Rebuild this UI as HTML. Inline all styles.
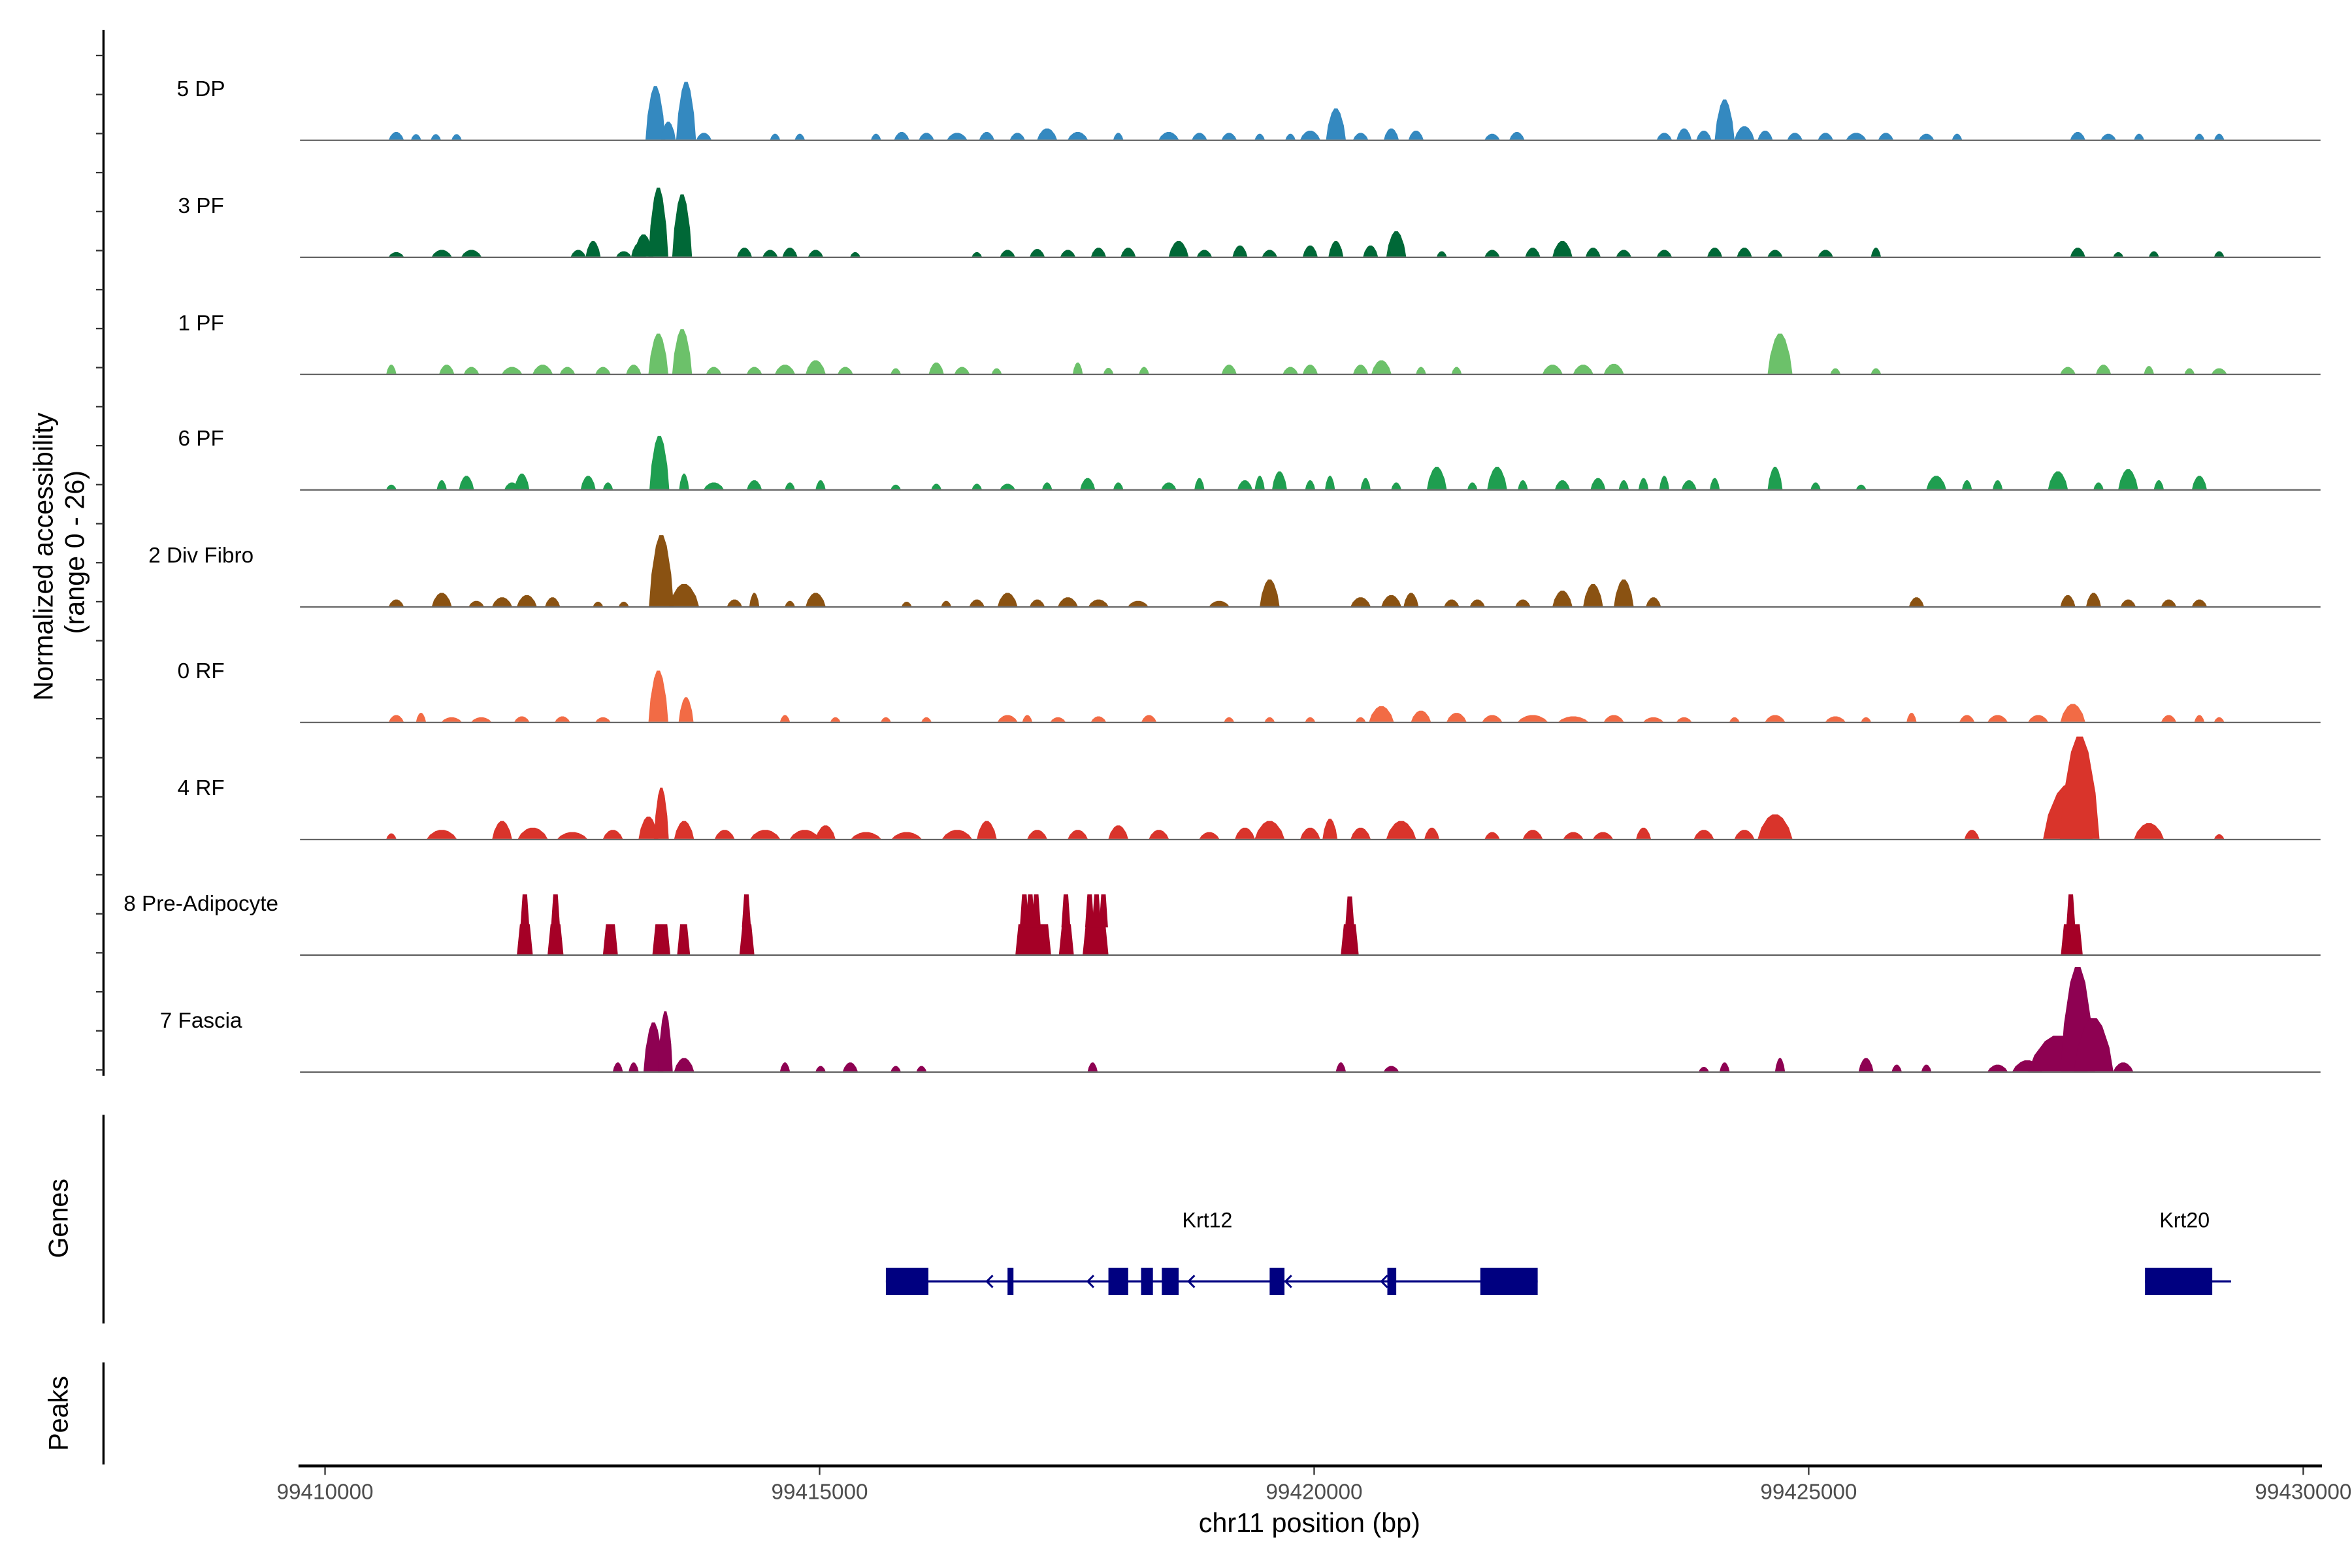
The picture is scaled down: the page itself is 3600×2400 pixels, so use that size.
<!DOCTYPE html>
<html><head><meta charset="utf-8">
<style>
html,body{margin:0;padding:0;background:#fff;}
svg{display:block;font-family:"Liberation Sans",Arial,sans-serif;}
</style></head>
<body>
<svg id="chart" width="3600" height="2400" viewBox="0 0 1568 1045" preserveAspectRatio="none" xmlns="http://www.w3.org/2000/svg">
<rect width="1568" height="1045" fill="#fff"/>
<g id="tracks"></g>
<g id="genes"></g>
<g id="axes"></g>
</svg>
<script>
const trackNames = ["5 DP","3 PF","1 PF","6 PF","2 Div Fibro","0 RF","4 RF","8 Pre-Adipocyte","7 Fascia"];
const trackColors = ["#3489c0","#006837","#6cc16a","#1f9e50","#8a5212","#f26b45","#d9342b","#a50026","#8e0152"];
// peaks: [center kb offset from 99410000, width kb, height (0-26)]
const peaksDP = [[0.72,.15,1.7],[0.92,.1,1.2],[1.12,.1,1.2],[1.33,.1,1.2],[3.34,.2,12],[3.65,.2,13],[3.47,.15,4],[3.83,.15,1.5],[4.55,.1,1.3],[4.80,.1,1.3],[5.57,.1,1.3],[5.83,.15,1.7],[6.08,.15,1.5],[6.39,.2,1.5],[6.69,.15,1.7],[7.0,.15,1.5],[7.30,.2,2.5],[7.61,.2,1.7],[8.02,.1,1.5],[8.53,.2,1.7],[8.84,.15,1.5],[9.14,.15,1.5],[9.45,.1,1.3],[9.76,.1,1.3],[9.96,.2,2],[10.22,.2,7],[10.47,.15,1.5],[10.78,.15,2.5],[11.03,.15,2],[11.80,.15,1.3],[12.05,.15,1.7],[13.54,.15,1.5],[13.74,.15,2.5],[13.94,.15,2],[14.15,.2,9],[14.35,.2,3],[14.56,.15,2],[14.86,.15,1.5],[15.17,.15,1.5],[15.48,.2,1.5],[15.78,.15,1.5],[16.19,.15,1.3],[16.50,.1,1.3],[17.72,.15,1.7],[18.03,.15,1.3],[18.34,.1,1.3],[18.95,.1,1.3],[19.15,.1,1.3]];
const peaksPF3 = [[0.72,.15,1],[1.18,.2,1.5],[1.48,.2,1.5],[2.56,.15,1.5],[2.71,.15,3.5],[3.02,.15,1.2],[3.17,.15,3],[3.22,.2,5],[3.37,.2,15.5],[3.61,.2,14],[4.24,.15,2],[4.50,.15,1.5],[4.70,.15,2],[4.96,.15,1.5],[5.36,.1,1],[6.59,.1,1],[6.90,.15,1.5],[7.20,.15,1.7],[7.51,.15,1.5],[7.82,.15,2],[8.12,.15,2],[8.63,.2,3.5],[8.89,.15,1.5],[9.25,.15,2.5],[9.55,.15,1.5],[9.96,.15,2.5],[10.22,.15,3.5],[10.57,.15,2.5],[10.83,.2,5.7],[11.29,.1,1.2],[11.80,.15,1.5],[12.21,.15,2],[12.51,.2,3.5],[12.82,.15,2],[13.13,.15,1.5],[13.54,.15,1.5],[14.05,.15,2],[14.35,.15,2],[14.66,.15,1.5],[15.17,.15,1.5],[15.68,.1,2],[17.72,.15,2],[18.13,.1,1],[18.49,.1,1.2],[19.15,.1,1.2]];
const peaksPF1 = [[0.67,.1,2],[1.23,.15,2],[1.48,.15,1.5],[1.89,.2,1.5],[2.20,.2,2],[2.45,.15,1.5],[2.81,.15,1.5],[3.12,.15,2],[3.37,.2,9],[3.61,.2,10],[3.93,.15,1.5],[4.34,.15,1.5],[4.65,.2,2],[4.96,.2,3],[5.26,.15,1.5],[5.77,.1,1.2],[6.18,.15,2.5],[6.44,.15,1.5],[6.79,.1,1.2],[7.61,.1,2.5],[7.92,.1,1.3],[8.28,.1,1.5],[9.14,.15,2],[9.76,.15,1.5],[9.96,.15,2],[10.47,.15,2],[10.68,.2,3],[11.08,.1,1.5],[11.44,.1,1.5],[12.41,.2,2],[12.72,.2,2],[13.03,.2,2.2],[14.71,.25,9],[15.27,.1,1.2],[15.68,.1,1.2],[17.62,.15,1.5],[17.98,.15,2],[18.44,.1,1.7],[18.85,.1,1.2],[19.15,.15,1.2]];
const peaksPF6 = [[0.67,.1,1],[1.18,.1,2],[1.43,.15,3],[1.89,.15,1.5],[1.99,.15,3.5],[2.66,.15,3],[2.86,.1,1.5],[3.38,.2,12],[3.63,.1,3.5],[3.93,.2,1.5],[4.34,.15,2],[4.70,.1,1.5],[5.01,.1,2],[5.77,.1,1],[6.18,.1,1.2],[6.59,.1,1.2],[6.90,.15,1.2],[7.30,.1,1.5],[7.71,.15,2.5],[8.02,.1,1.5],[8.53,.15,1.5],[8.84,.1,2.5],[9.30,.15,2],[9.45,.1,3],[9.65,.15,4],[9.96,.1,2],[10.16,.1,3],[10.52,.1,2.5],[10.83,.1,1.5],[11.24,.2,5],[11.60,.1,1.5],[11.85,.2,5],[12.11,.1,2],[12.51,.15,2],[12.87,.15,2.5],[13.13,.1,2],[13.33,.1,2.5],[13.54,.1,3],[13.79,.15,2],[14.05,.1,2.5],[14.66,.15,5],[15.07,.1,1.5],[15.53,.1,1],[16.29,.2,3],[16.60,.1,2],[16.91,.1,2],[17.52,.2,4],[17.93,.1,1.5],[18.23,.2,4.5],[18.54,.1,2],[18.95,.15,3]];
const peaksDiv = [[0.72,.15,1.5],[1.18,.2,3],[1.53,.15,1.2],[1.79,.2,2],[2.04,.2,2.5],[2.30,.15,2],[2.76,.1,1],[3.02,.1,1],[3.40,.25,16],[3.63,.3,5],[4.14,.15,1.5],[4.34,.1,3],[4.70,.1,1.2],[4.96,.2,3],[5.88,.1,1],[6.28,.1,1.2],[6.59,.15,1.5],[6.90,.2,3],[7.20,.15,1.5],[7.51,.2,2],[7.82,.2,1.5],[8.22,.2,1.2],[9.04,.2,1.2],[9.55,.2,6],[10.47,.2,2],[10.78,.2,2.5],[10.98,.15,3],[11.39,.15,1.5],[11.65,.15,1.5],[12.11,.15,1.5],[12.51,.2,3.5],[12.82,.2,5],[13.13,.2,6],[13.43,.15,2],[16.09,.15,2],[17.62,.15,2.5],[17.88,.15,3],[18.23,.15,1.5],[18.64,.15,1.5],[18.95,.15,1.5]];
const peaksRF0 = [[0.72,.15,1.5],[0.97,.1,2],[1.28,.2,1],[1.58,.2,1],[1.99,.15,1.2],[2.40,.15,1.2],[2.81,.15,1],[3.37,.2,11.5],[3.65,.15,5.5],[4.65,.1,1.5],[5.16,.1,1],[5.67,.1,1],[6.08,.1,1],[6.90,.2,1.5],[7.10,.1,1.5],[7.41,.15,1],[7.82,.15,1.2],[8.33,.15,1.5],[9.14,.1,1],[9.55,.1,1],[9.96,.1,1],[10.47,.1,1],[10.68,.25,3.5],[11.08,.2,2.5],[11.44,.2,2],[11.80,.2,1.5],[12.21,.3,1.5],[12.62,.3,1.2],[13.03,.2,1.5],[13.43,.2,1],[13.74,.15,1],[14.25,.1,1],[14.66,.2,1.5],[15.27,.2,1.2],[15.58,.1,1],[16.04,.1,2],[16.60,.15,1.5],[16.91,.2,1.5],[17.32,.2,1.5],[17.67,.25,4],[18.64,.15,1.5],[18.95,.1,1.5],[19.15,.1,1]];
const peaksRF4 = [[0.67,.1,1.2],[1.18,.3,2],[1.79,.2,4],[2.10,.3,2.5],[2.50,.3,1.5],[2.91,.2,2],[3.27,.2,5],[3.40,.15,11.5],[3.63,.2,4],[4.04,.2,2],[4.45,.3,2],[4.85,.3,2],[5.06,.2,3],[5.47,.3,1.5],[5.88,.3,1.5],[6.39,.3,2],[6.69,.2,4],[7.20,.2,2],[7.61,.2,2],[8.02,.2,3],[8.43,.2,2],[8.94,.2,1.5],[9.30,.2,2.5],[9.55,.3,4],[9.96,.2,2.5],[10.16,.15,4.5],[10.47,.2,2.5],[10.88,.3,4],[11.19,.15,2.5],[11.80,.15,1.5],[12.21,.2,2],[12.62,.2,1.5],[12.92,.2,1.5],[13.33,.15,2.5],[13.94,.2,2],[14.35,.2,2],[14.66,.35,5.5],[16.65,.15,2],[17.62,.5,12],[17.74,.4,23],[18.44,.3,3.5],[19.15,.1,1]];
const peaksFascia = [[2.96,.1,2],[3.12,.1,2],[3.32,.2,11],[3.44,.15,13.5],[3.63,.2,3],[4.65,.1,2],[5.01,.1,1.2],[5.31,.15,2],[5.77,.1,1.2],[6.03,.1,1.2],[7.76,.1,2],[10.27,.1,2],[10.78,.15,1.2],[13.94,.1,1],[14.15,.1,2],[14.71,.1,3],[15.58,.15,3],[15.89,.1,1.5],[16.19,.1,1.5],[16.91,.2,1.5],[17.21,.3,2.5],[17.52,.6,8],[17.72,.35,23.5],[17.88,.4,12],[18.18,.2,2]];
// Pre-adipocyte blocks: [start kb, end kb, height]
const preBlocks = [[1.94,2.10,6.8],[2.25,2.41,6.8],[2.81,2.96,6.8],[3.31,3.49,6.8],[3.56,3.69,6.8],[4.19,4.34,6.8],[6.98,7.34,6.8],[7.42,7.57,6.8],[7.66,7.92,6.8],[10.27,10.45,6.8],[17.55,17.77,6.8]];
const preSpikes = [[2.02,13.5],[2.33,13.5],[4.26,13.5],[7.07,13.5],[7.13,13.5],[7.19,13.5],[7.49,13.5],[7.73,13.5],[7.80,13.5],[7.87,13.5],[10.36,13],[17.65,13.5]];
const trackPeaks = [peaksDP,peaksPF3,peaksPF1,peaksPF6,peaksDiv,peaksRF0,peaksRF4,null,peaksFascia];
const xTicks = [99410000,99415000,99420000,99425000,99430000];
// gene model (kb offsets)
const krt12Span = [5.67,12.26];
const krt20Span = [18.40,19.27];
const exons = [[5.67,6.10],[6.90,6.96],[7.92,8.12],[8.25,8.37],[8.46,8.63],[9.55,9.70],[10.74,10.83],[11.68,12.26],[18.40,19.08]];
const intronArrows = [6.69,7.71,8.73,9.71,10.68];
const geneLabels = [["Krt12",8.92],["Krt20",18.80]];

const NS="http://www.w3.org/2000/svg";
const XA=216.7, PXKB=65.94;
const xs = kb => XA + kb*PXKB;
const baselines = [93,171,249,326,404,481,559,636,714];
const PXU = 2.96;
function el(tag, attrs, parent){const e=document.createElementNS(NS,tag);for(const k in attrs)e.setAttribute(k,attrs[k]);parent.appendChild(e);return e;}
const gT=document.getElementById('tracks');
trackNames.forEach((name,i)=>{
  const b=baselines[i], col=trackColors[i];
  const g=el('g',{},gT);
  
  
  const lab=el('text',{x:134,y:b-29,'font-size':14.5,'text-anchor':'middle',fill:'#000'},g);
  lab.textContent=name;
  
  
  const pk=trackPeaks[i];
  if(pk){
    pk.forEach(p=>{
      const c=p[0],w=p[1],h=p[2]*PXU;
      const pts=[[xs(c-w/2),b],[xs(c-w*0.4),b-h*0.45],[xs(c-w*0.22),b-h*0.85],[xs(c-w*0.08),b-h],[xs(c+w*0.08),b-h],[xs(c+w*0.22),b-h*0.85],[xs(c+w*0.4),b-h*0.45],[xs(c+w/2),b]];
      const pe=el('polygon',{points:pts.map(q=>q.join(',')).join(' '),fill:col},g);
      
      
    });
  } else {
    preBlocks.forEach(p=>{
      const x1=xs(p[0]),x2=xs(p[1]),h=p[2]*PXU;
      const pe=el('polygon',{points:`${x1},${b} ${x1+2},${b-h} ${x2-2},${b-h} ${x2},${b}`,fill:col},g);
      
      
    });
    preSpikes.forEach(s=>{
      const x=xs(s[0]),h=s[1]*PXU;
      const pe=el('polygon',{points:`${x-3},${b-18} ${x-1.5},${b-h} ${x+1.5},${b-h} ${x+3},${b-18}`,fill:col},g);
      
      
    });
  }
  const bl=el('line',{x1:200,x2:1547,y1:b+0.5,y2:b+0.5,stroke:'#666','stroke-width':1},g);
  
  
});
// genes
const gG=document.getElementById('genes');
const GY=854, GC='#000080';
[krt12Span,krt20Span].forEach(s=>{
  const l=el('line',{x1:xs(s[0]),x2:xs(s[1]),y1:GY,y2:GY,stroke:GC,'stroke-width':1.5},gG);
  
  
});
exons.forEach(e=>{
  const r=el('rect',{x:xs(e[0]),y:GY-9,width:xs(e[1])-xs(e[0]),height:18,fill:GC},gG);
  
  
});
intronArrows.forEach(a=>{
  const x=xs(a);
  const p=el('polyline',{points:`${x+4},${GY-4} ${x},${GY} ${x+4},${GY+4}`,fill:'none',stroke:GC,'stroke-width':1.3},gG);
  
  
});
geneLabels.forEach(g=>{
  const t=el('text',{x:xs(g[1]),y:818,'font-size':14,'text-anchor':'middle',fill:'#000'},gG);
  t.textContent=g[0];
  
  
});
// axes
const gA=document.getElementById('axes');
function ln(x1,y1,x2,y2,name,w,c){const l=el('line',{x1,y1,x2,y2,stroke:c||'#000','stroke-width':w||1.5},gA);return l;}
ln(69,20,69,717,'accessibility-axis-line');
for(let y=37;y<=716;y+=26){ln(64,y,69,y,'y-tick',1,'#333');}
ln(69,743,69,882,'genes-axis-line');
ln(69,908,69,976,'peaks-axis-line');
ln(199,977,1548,977,'x-axis-line',2);
xTicks.forEach(v=>{
  const x=xs((v-xTicks[0])/1000);
  ln(x,978,x,983,'x-tick',1,'#333');
  const t=el('text',{x:x,y:999,'font-size':14.5,'text-anchor':'middle',fill:'#4d4d4d'},gA);
  t.textContent=v;
  
  
});
function txt(s,x,y,size,rot,name){const t=el('text',{x,y,'font-size':size,'text-anchor':'middle',fill:'#000'},gA);if(rot)t.setAttribute('transform',`rotate(-90 ${x} ${y})`);t.textContent=s;return t;}
txt('chr11 position (bp)',873,1021,18,false,'x-axis-title');
txt('Normalized accessibility',35,371,18,true,'y-axis-title');
txt('(range 0 - 26)',56,368,18,true,'y-axis-range');
txt('Genes',45,812,18,true,'genes-axis-title');
txt('Peaks',45,942,18,true,'peaks-axis-title');
</script>
</body></html>
